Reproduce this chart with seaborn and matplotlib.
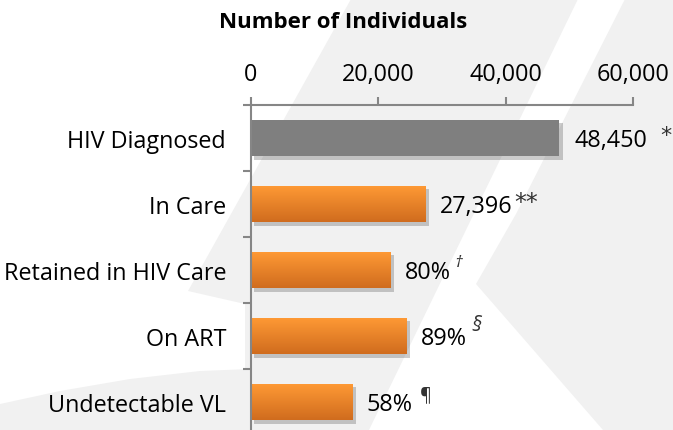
import matplotlib
matplotlib.use("Agg")
import matplotlib.pyplot as plt
import matplotlib.patheffects as pe
from matplotlib.patches import Polygon
from matplotlib.ticker import FuncFormatter
import numpy as np
import pandas as pd
import seaborn as sns

# ---- data ----
categories = ["HIV Diagnosed", "In Care", "Retained in HIV Care", "On ART", "Undetectable VL"]
values = [48450, 27396, 21917, 24382, 15890]
value_labels = ["48,450", "27,396", "80%", "89%", "58%"]
notes = ["*", "**", "\u2020", "\u00a7", "\u00b6"]
x_ticks = [0, 20000, 40000, 60000]
title = "Number of Individuals"

# ---- style ----
sns.set_theme(style="white")
FONT = "Open Sans"
plt.rcParams["font.family"] = [FONT, "DejaVu Sans"]
FS = 16.8

W, H = 673, 431
fig = plt.figure(figsize=(W / 100, H / 100), dpi=100)
fig.patch.set_facecolor("white")

# background watermark
bg = fig.add_axes([0, 0, 1, 1], zorder=-10)
bg.set_xlim(0, W)
bg.set_ylim(H, 0)
bg.axis("off")
wm = "#f1f1f1"
for poly in [
    [(351, 0), (578, 0), (369, 431), (245, 431), (245, 305), (188, 292)],
    [(625, 0), (673, 0), (673, 431), (603, 431), (476, 285), (516, 215)],
    [(0, 405), (60, 392), (130, 380), (200, 372), (250, 370), (250, 431), (0, 431)],
]:
    bg.add_patch(Polygon(poly, closed=True, facecolor=wm, edgecolor="none"))

ax = fig.add_axes([251 / W, (H - 436) / H, 382 / W, 330 / H])
ax.set_facecolor("none")

df = pd.DataFrame({"cat": categories, "val": values})
colors = ["#7f7f7f"] + ["#f28a2c"] * (len(categories) - 1)
sns.barplot(data=df, x="val", y="cat", hue="cat", palette=colors, orient="h",
            width=0.55, legend=False, ax=ax, saturation=1)

ax.set_xlim(0, 60000)
ax.set_ylim(len(categories) - 0.5, -0.5)

# gradient + shadow
top_c = np.array([255, 154, 53]) / 255
bot_c = np.array([208, 108, 30]) / 255
grad = np.linspace(0, 1, 64)[:, None, None]
grad_img = top_c * (1 - grad) + bot_c * grad
for i, p in enumerate(ax.patches):
    p.set_edgecolor("none")
    p.set_path_effects([pe.SimplePatchShadow(offset=(2.5, -2.5), shadow_rgbFace="k", alpha=0.22),
                        pe.Normal()])
    if i > 0:
        x0, y0, w, h = p.get_x(), p.get_y(), p.get_width(), p.get_height()
        im = ax.imshow(grad_img, extent=(x0, x0 + w, y0 + h, y0), origin="upper",
                       aspect="auto", zorder=p.get_zorder() + 0.1, interpolation="bilinear")
        im.set_clip_path(p)
ax.set_xlim(0, 60000)
ax.set_ylim(len(categories) - 0.5, -0.5)

# axes styling
axc = "#868686"
for s in ["right", "bottom"]:
    ax.spines[s].set_visible(False)
for s in ["top", "left"]:
    ax.spines[s].set_color(axc)
    ax.spines[s].set_linewidth(1.5)
ax.xaxis.tick_top()
ax.set_xticks(x_ticks)
ax.xaxis.set_major_formatter(FuncFormatter(lambda v, _: f"{int(v):,}"))
ax.tick_params(axis="x", which="major", length=6, width=1.5, color=axc, pad=8,
               labelsize=FS, labelcolor="black", direction="out")
ax.set_yticks(range(len(categories)))
ax.set_yticklabels(categories)
ax.set_yticks(np.arange(-0.5, len(categories), 1.0), minor=True)
ax.tick_params(axis="y", which="major", length=0, pad=18, labelsize=FS, labelcolor="black")
ax.tick_params(axis="y", which="minor", length=6, width=1.5, color=axc, left=True)
ax.set_xlabel("")
ax.set_ylabel("")
ax.grid(False)

fig.text(343 / W, 1 - 23 / H, title, ha="center", va="center", fontsize=16,
         fontweight="bold", color="black")

# value labels and footnote marks
note_gap = [13, 2, 3, 5, 7]
note_dy = [-3, -2, -8, -11, -8]
note_size = [16, 17, 12, 15, 13]
note_style = ["normal", "normal", "italic", "italic", "normal"]
note_font = [["DejaVu Sans"], ["DejaVu Sans"], [FONT, "DejaVu Sans"], [FONT, "DejaVu Sans"],
             [FONT, "DejaVu Sans"]]
fig.canvas.draw()
r = fig.canvas.get_renderer()
for i, (v, lab) in enumerate(zip(values, value_labels)):
    t = ax.annotate(lab, xy=(v, i), xytext=(10.5, -1.5), textcoords="offset points",
                    ha="left", va="center", fontsize=FS, color="black")
    fig.canvas.draw()
    bb = t.get_window_extent(r)
    ax.annotate(notes[i], xy=(v, i), xycoords="data",
                xytext=((bb.x1 - ax.transData.transform((v, i))[0] + note_gap[i]) * 0.72,
                        -note_dy[i] * 0.72),
                textcoords="offset points", ha="left", va="center",
                fontsize=note_size[i], fontstyle=note_style[i], color="#333333",
                family=note_font[i], annotation_clip=False)

fig.savefig("out.png", dpi=100)
